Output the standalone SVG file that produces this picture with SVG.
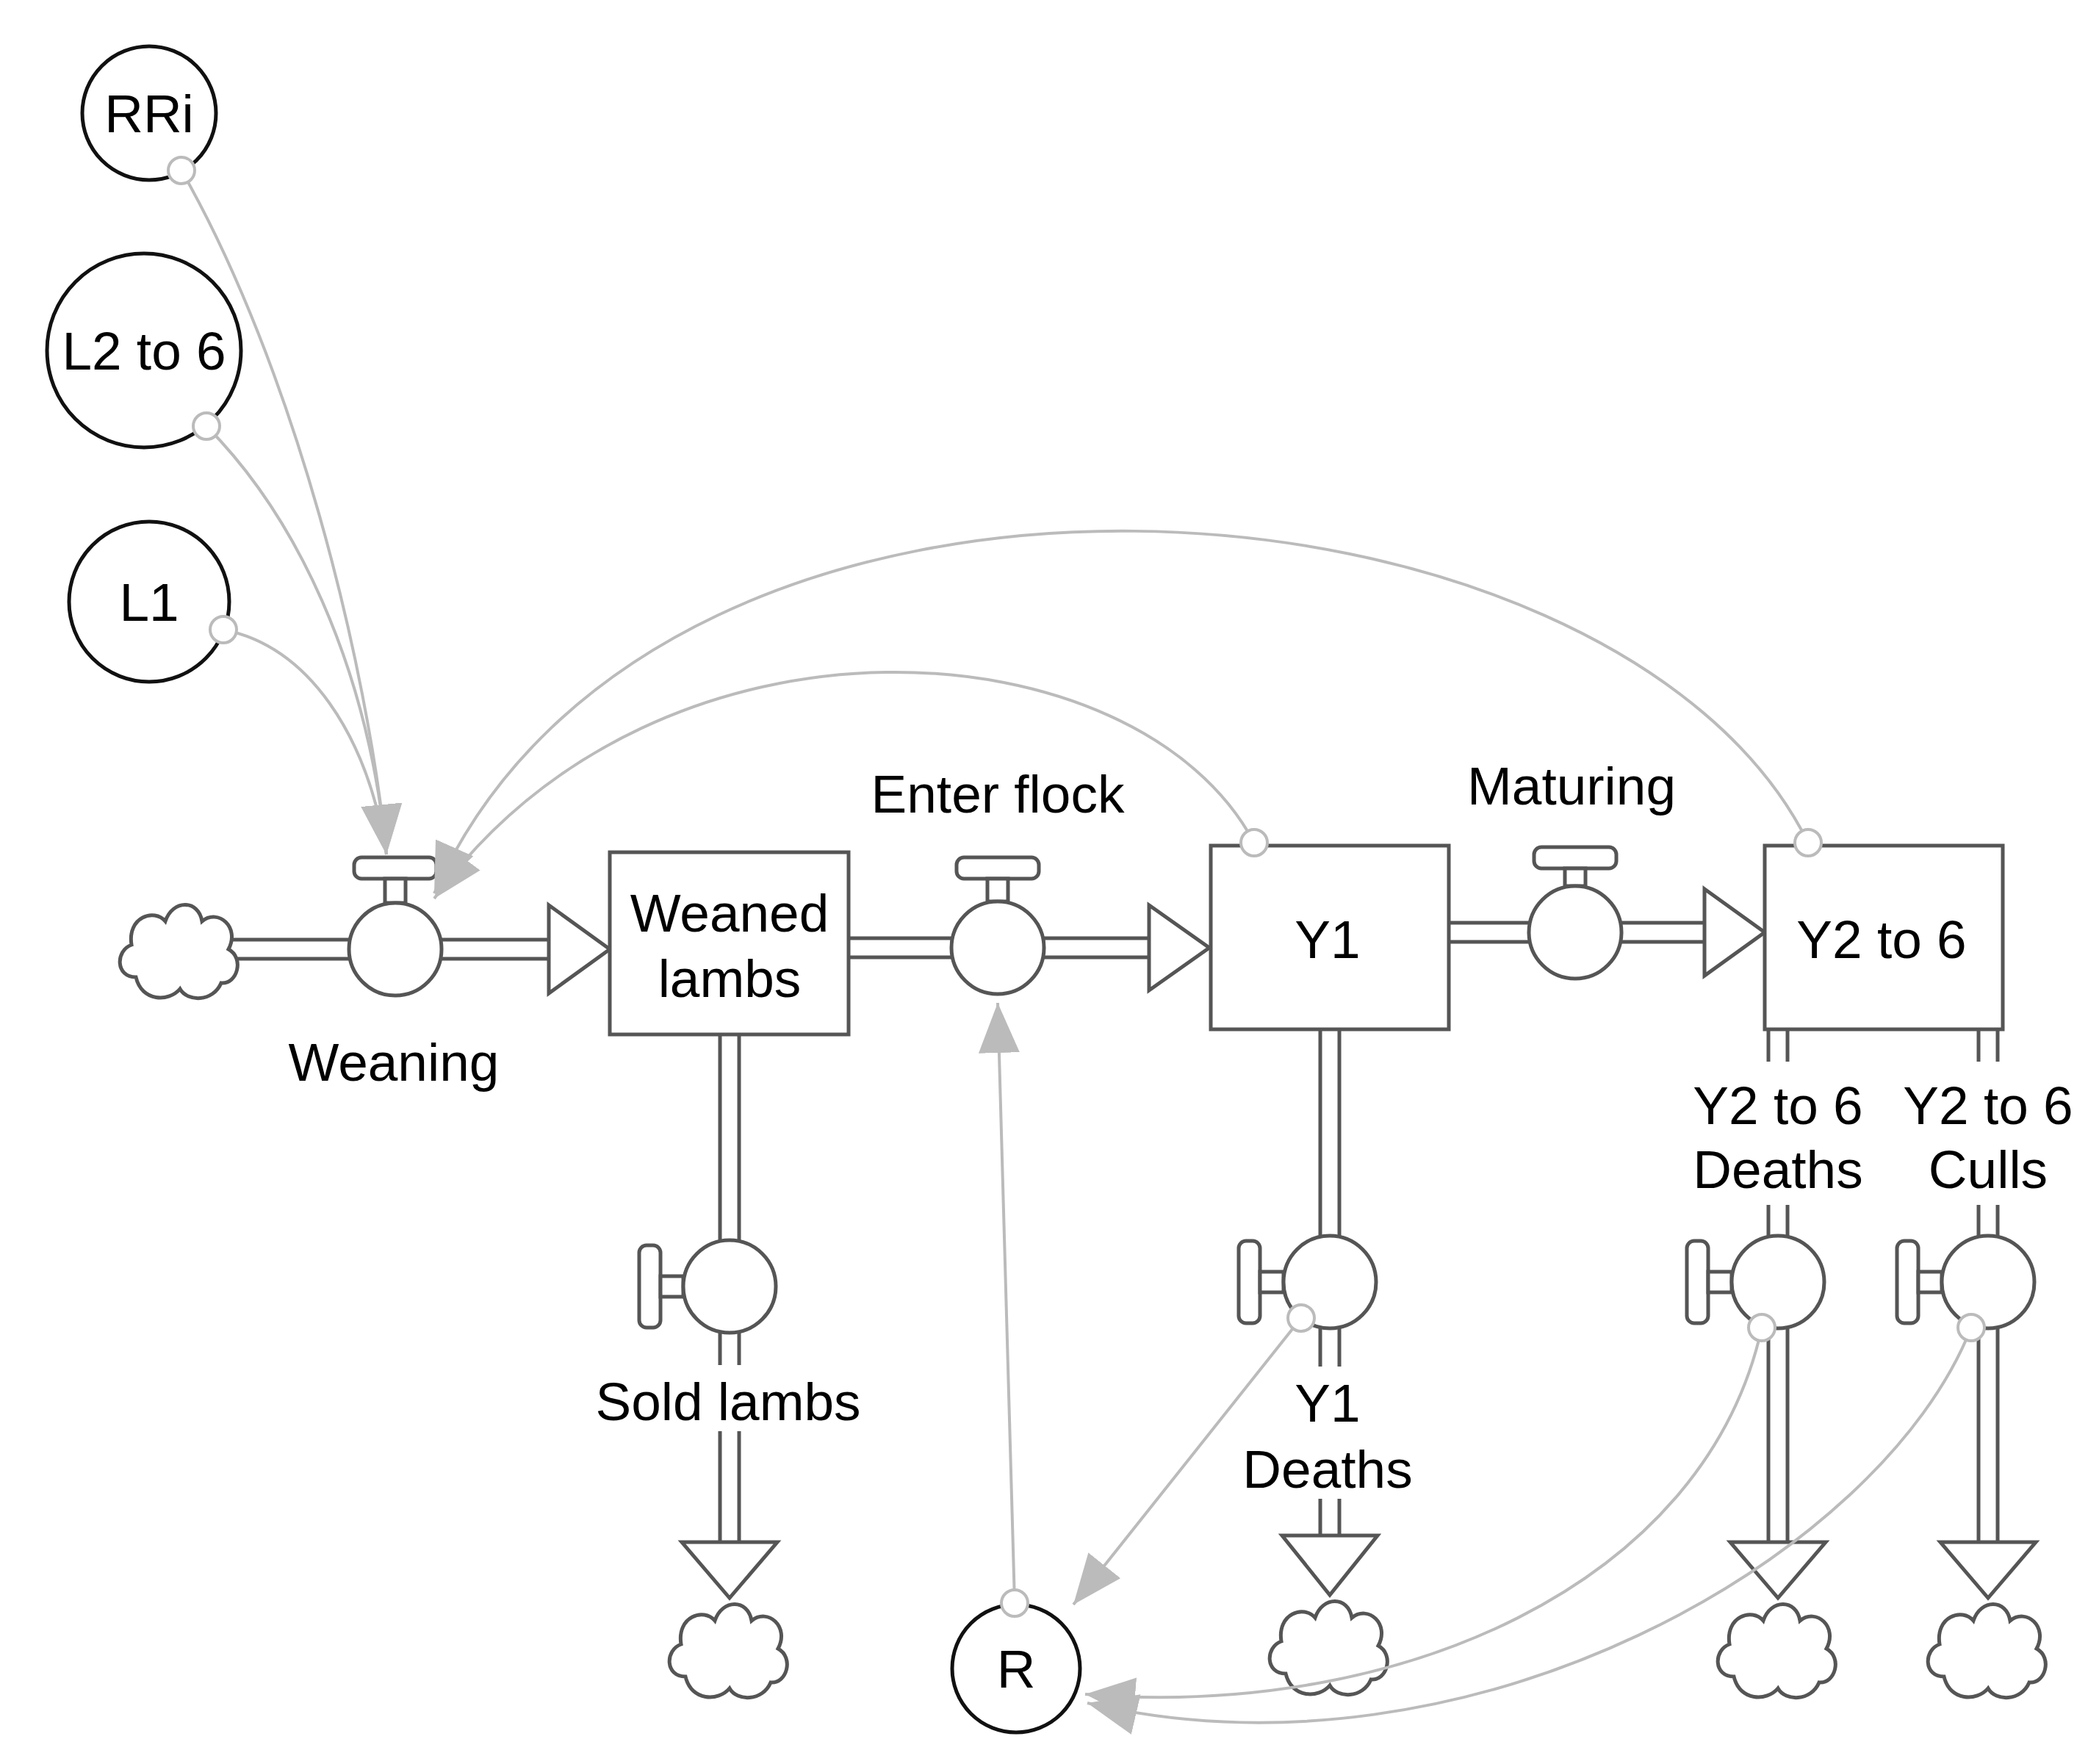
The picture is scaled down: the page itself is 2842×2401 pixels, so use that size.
<svg xmlns="http://www.w3.org/2000/svg" width="2842" height="2401" viewBox="0 0 2842 2401">
<style>
.t{font-family:"Liberation Sans",Arial,sans-serif;font-size:73px;fill:#000;text-anchor:middle}
.po{stroke:#555;stroke-width:31;fill:none}
.pi{stroke:#fff;stroke-width:21;fill:none}
.sh{fill:#fff;stroke:#555;stroke-width:5}
.aux{fill:#fff;stroke:#111;stroke-width:5}
.cn{fill:none;stroke:#bbb;stroke-width:4}
.dot{fill:#fff;stroke:#bbb;stroke-width:4}
</style>
<defs>
<marker id="ah" markerUnits="userSpaceOnUse" markerWidth="72" markerHeight="60" refX="68" refY="28" orient="auto">
<path d="M0,0 L68,28 L0,56 Z" fill="#bbb"/>
</marker>
<path id="cloud" d="M-60,38 C-88,38 -88,2 -66,-6 C-72,-44 -35,-56 -20,-38 C-10,-68 25,-68 30,-38 C52,-56 82,-30 66,0 C88,12 78,48 56,46 C45,72 10,72 0,54 C-15,72 -52,72 -60,38 Z" fill="#fff" stroke="#555" stroke-width="5"/>
</defs>
<g id="pipes">
<path class="po" d="M290,1292 H750 M1155,1290 H1566 M1972,1269 H2322 M993,1408 V1690 M993,1810 V1858 M993,1948 V2102 M1810,1401 V1684 M1810,1806 V1860 M1810,2040 V2090 M2420,1401 V1445 M2420,1640 V1684 M2420,1806 V2102 M2706,1401 V1445 M2706,1640 V1684 M2706,1806 V2102"/>
<path class="pi" d="M280,1292 H752 M1150,1290 H1568 M1968,1269 H2324 M993,1404 V1692 M993,1808 V1860 M993,1946 V2104 M1810,1398 V1686 M1810,1804 V1862 M1810,2038 V2092 M2420,1398 V1447 M2420,1638 V1686 M2420,1804 V2104 M2706,1398 V1447 M2706,1638 V1686 M2706,1804 V2104"/>
<path class="sh" d="M747,1232 L830,1292 L747,1352 Z M1564,1232 L1646,1290 L1564,1348 Z M2320,1210 L2402,1269 L2320,1328 Z M928,2099 L1058,2099 L993,2175 Z M1745,2090 L1875,2090 L1810,2171 Z M2355,2099 L2485,2099 L2420,2175 Z M2641,2099 L2771,2099 L2706,2175 Z"/>
</g>
<g id="clouds">
<use href="#cloud" x="245" y="1292"/>
<use href="#cloud" x="993" y="2244"/>
<use href="#cloud" x="1810" y="2240"/>
<use href="#cloud" x="2420" y="2244"/>
<use href="#cloud" x="2706" y="2244"/>
</g>
<g id="WeanedLambs"><rect class="sh" x="830" y="1160" width="325" height="248"/><text class="t" x="993" y="1268">Weaned</text><text class="t" x="993" y="1357">lambs</text></g>
<g id="Y1"><rect class="sh" x="1648" y="1151" width="324" height="250"/><text class="t" x="1807" y="1304">Y1</text></g>
<g id="Y2to6"><rect class="sh" x="2402" y="1151" width="324" height="250"/><text class="t" x="2561" y="1304">Y2 to 6</text></g>
<g id="Weaning"><rect class="sh" x="482" y="1167" width="112" height="29" rx="10"/><rect class="sh" x="524" y="1196" width="28" height="33"/><circle class="sh" cx="538" cy="1292" r="63"/><text class="t" x="536" y="1471">Weaning</text></g>
<g id="EnterFlock"><rect class="sh" x="1302" y="1167" width="112" height="29" rx="10"/><rect class="sh" x="1344" y="1196" width="28" height="31"/><circle class="sh" cx="1358" cy="1290" r="63"/><text class="t" x="1358" y="1106">Enter flock</text></g>
<g id="Maturing"><rect class="sh" x="2088" y="1153" width="112" height="29" rx="10"/><rect class="sh" x="2130" y="1182" width="28" height="24"/><circle class="sh" cx="2144" cy="1269" r="63"/><text class="t" x="2139" y="1095">Maturing</text></g>
<g id="SoldLambs"><rect class="sh" x="870" y="1695" width="29" height="112" rx="10"/><rect class="sh" x="899" y="1737" width="31" height="28"/><circle class="sh" cx="993" cy="1751" r="63"/><text class="t" x="991" y="1933">Sold lambs</text></g>
<g id="Y1Deaths"><rect class="sh" x="1686" y="1689" width="29" height="112" rx="10"/><rect class="sh" x="1715" y="1731" width="32" height="28"/><circle class="sh" cx="1810" cy="1745" r="63"/><text class="t" x="1807" y="1935">Y1</text><text class="t" x="1807" y="2025">Deaths</text></g>
<g id="Y2Deaths"><rect class="sh" x="2296" y="1689" width="29" height="112" rx="10"/><rect class="sh" x="2325" y="1731" width="32" height="28"/><circle class="sh" cx="2420" cy="1745" r="63"/><text class="t" x="2420" y="1530">Y2 to 6</text><text class="t" x="2420" y="1617">Deaths</text></g>
<g id="Y2Culls"><rect class="sh" x="2582" y="1689" width="29" height="112" rx="10"/><rect class="sh" x="2611" y="1731" width="32" height="28"/><circle class="sh" cx="2706" cy="1745" r="63"/><text class="t" x="2706" y="1530">Y2 to 6</text><text class="t" x="2706" y="1617">Culls</text></g>
<g id="RRi"><circle class="aux" cx="203" cy="154" r="91"/><text class="t" x="203" y="180">RRi</text></g>
<g id="L2to6"><circle class="aux" cx="196" cy="477" r="132"/><text class="t" x="196" y="503">L2 to 6</text></g>
<g id="L1"><circle class="aux" cx="203" cy="819" r="109"/><text class="t" x="203" y="845">L1</text></g>
<g id="R"><circle class="aux" cx="1383" cy="2271" r="87"/><text class="t" x="1383" y="2297">R</text></g>
<g id="connectors">
<path class="cn" d="M247,232 C400,500 500,900 526,1163" marker-end="url(#ah)"/>
<path class="cn" d="M281,580 C400,700 500,900 526,1163" marker-end="url(#ah)"/>
<path class="cn" d="M304,857 C420,880 500,1000 526,1163"/>
<path class="cn" d="M2461,1147 C2200,620 900,520 591,1216" marker-end="url(#ah)"/>
<path class="cn" d="M1707,1147 C1550,850 900,800 591,1223" marker-end="url(#ah)"/>
<path class="cn" d="M1381,2180 L1358,1365" marker-end="url(#ah)"/>
<path class="cn" d="M1771,1794 L1461,2184" marker-end="url(#ah)"/>
<path class="cn" d="M2398,1807 C2320,2160 1900,2340 1477,2306" marker-end="url(#ah)"/>
<path class="cn" d="M2683,1807 C2560,2120 2000,2440 1480,2318" marker-end="url(#ah)"/>
<circle class="dot" cx="247" cy="232" r="18"/>
<circle class="dot" cx="281" cy="580" r="18"/>
<circle class="dot" cx="304" cy="857" r="18"/>
<circle class="dot" cx="1707" cy="1147" r="18"/>
<circle class="dot" cx="2461" cy="1147" r="18"/>
<circle class="dot" cx="1381" cy="2182" r="18"/>
<circle class="dot" cx="1771" cy="1794" r="18"/>
<circle class="dot" cx="2398" cy="1807" r="18"/>
<circle class="dot" cx="2683" cy="1807" r="18"/>
</g>
</svg>
